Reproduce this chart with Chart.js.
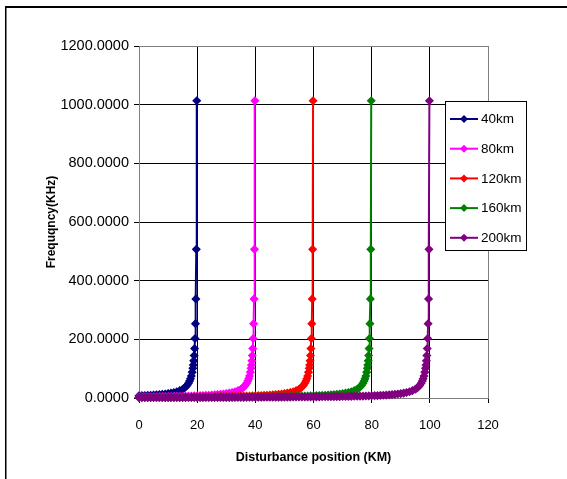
<!DOCTYPE html>
<html>
<head>
<meta charset="utf-8">
<script src="https://cdn.jsdelivr.net/npm/chart.js@4/dist/chart.umd.min.js"></script>
<style>
  html, body { margin: 0; padding: 0; background: #fff; }
  canvas { display: block; }
</style>
</head>
<body>
<canvas id="chart" width="567" height="479"></canvas>
<script>
// line lengths (km) - the resonance peak sits at half the line length
var seriesLabels = ['40km', '80km', '120km', '160km', '200km'];
var lineLengths = [40, 80, 120, 160, 200];
var seriesColors = ['#000080', '#FF00FF', '#FF0000', '#008000', '#800080'];

// distance of the disturbance from the peak (km) and the frequency read there (KHz)
var distToPeak = [
    0.148, 0.296, 0.444, 0.592, 0.74, 0.888, 1.036, 1.184, 1.332, 1.48,
    1.7, 2.0, 2.3, 2.6, 3.0, 3.5, 4.0, 4.5,
    5, 6, 7, 8, 9, 10, 11, 12, 13, 14, 15, 16, 17, 18, 19, 20,
    21, 22, 23, 24, 25, 26, 27, 28, 29, 30, 31, 32, 33, 34, 35, 36, 37, 38, 39, 40,
    41, 42, 43, 44, 45, 46, 47, 48, 49, 50, 51, 52, 53, 54, 55, 56, 57, 58, 59, 60,
    61, 62, 63, 64, 65, 66, 67, 68, 69, 70, 71, 72, 73, 74, 75, 76, 77, 78, 79, 80,
    81, 82, 83, 84, 85, 86, 87, 88, 89, 90, 91, 92, 93, 94, 95, 96, 97, 98, 99, 100
];
var freqKHz = [
    1013.5, 506.8, 337.8, 253.4, 202.7, 168.9, 144.8, 126.7, 112.6, 101.4,
    88.2, 75.0, 65.2, 57.7, 50.0, 42.9, 37.5, 33.3,
    30.0, 25.0, 21.4, 18.8, 16.7, 15.0, 13.6, 12.5, 11.5, 10.7, 10.0, 9.4, 8.8, 8.3, 7.9, 7.5,
    7.1, 6.8, 6.5, 6.3, 6.0, 5.8, 5.6, 5.4, 5.2, 5.0, 4.8, 4.7, 4.5, 4.4, 4.3, 4.2, 4.1, 3.9, 3.8, 3.8,
    3.7, 3.6, 3.5, 3.4, 3.3, 3.3, 3.2, 3.1, 3.1, 3.0, 2.9, 2.9, 2.8, 2.8, 2.7, 2.7, 2.6, 2.6, 2.5, 2.5,
    2.5, 2.4, 2.4, 2.3, 2.3, 2.3, 2.2, 2.2, 2.2, 2.1, 2.1, 2.1, 2.1, 2.0, 2.0, 2.0, 1.9, 1.9, 1.9, 1.9,
    1.9, 1.8, 1.8, 1.8, 1.8, 1.7, 1.7, 1.7, 1.7, 1.7, 1.6, 1.6, 1.6, 1.6, 1.6, 1.6, 1.5, 1.5, 1.5, 1.5
];

var xTicks = [0, 20, 40, 60, 80, 100, 120];
var yTicks = [0, 200, 400, 600, 800, 1000, 1200];

var FONT = "'Liberation Sans', Arial, sans-serif";

function seriesPoints(len) {
    var half = len / 2;
    var pts = [];
    for (var i = distToPeak.length - 1; i >= 0; i--) {
        if (distToPeak[i] <= half) {
            pts.push({ x: half - distToPeak[i], y: freqKHz[i] });
        }
    }
    return pts;
}

var datasets = seriesLabels.map(function (lbl, i) {
    return {
        label: lbl,
        data: seriesPoints(lineLengths[i]),
        borderColor: seriesColors[i],
        backgroundColor: seriesColors[i],
        pointBackgroundColor: seriesColors[i],
        pointBorderColor: seriesColors[i],
        borderWidth: 2,
        pointStyle: 'rectRot',
        pointRadius: 3.5,
        pointBorderWidth: 1.5,
        tension: 0,
        clip: false,
        order: seriesLabels.length - i
    };
});

// outer frame of the picture
var framePlugin = {
    id: 'frame',
    beforeDraw: function (chart) {
        var c = chart.ctx;
        c.save();
        c.fillStyle = '#fff';
        c.fillRect(0, 0, chart.width, chart.height);
        c.fillStyle = '#000';
        c.fillRect(5, 6, chart.width - 5, 2);
        c.fillRect(5, 6, 1.5, chart.height - 6);
        c.restore();
    }
};

// boxed legend inside the plot, like the spreadsheet one
var boxLegend = {
    id: 'boxLegend',
    afterDraw: function (chart) {
        var c = chart.ctx;
        var x0 = 445, y0 = 101, w = 81, h = 149;
        c.save();
        c.fillStyle = '#fff';
        c.fillRect(x0, y0, w, h);
        c.strokeStyle = '#000';
        c.lineWidth = 1;
        c.strokeRect(x0 + 0.5, y0 + 0.5, w, h);
        c.font = '13.5px ' + FONT;
        c.textBaseline = 'middle';
        chart.data.datasets.forEach(function (ds, i) {
            var y = y0 + 18 + i * 29.7;
            c.strokeStyle = ds.borderColor;
            c.lineWidth = 2;
            c.beginPath();
            c.moveTo(450, y);
            c.lineTo(478, y);
            c.stroke();
            c.fillStyle = ds.borderColor;
            c.beginPath();
            c.moveTo(464, y - 4);
            c.lineTo(468, y);
            c.lineTo(464, y + 4);
            c.lineTo(460, y);
            c.closePath();
            c.fill();
            c.fillStyle = '#000';
            c.fillText(ds.label, 481, y + 0.5);
        });
        c.restore();
    }
};

var config = {
    type: 'line',
    data: { datasets: datasets },
    options: {
        responsive: false,
        animation: false,
        devicePixelRatio: 1,
        layout: { padding: { top: 46, right: 79, left: 0, bottom: 0 } },
        plugins: {
            legend: { display: false },
            tooltip: { enabled: false }
        },
        scales: {
            x: {
                type: 'linear',
                min: 0,
                max: 120,
                afterBuildTicks: function (scale) {
                    scale.ticks = xTicks.map(function (v) { return { value: v }; });
                },
                afterFit: function (scale) { scale.height = 81; },
                grid: {
                    color: function (ctx) { return ctx.tick && ctx.tick.value === 120 ? '#808080' : '#000'; },
                    tickColor: '#000',
                    tickLength: 5,
                    lineWidth: 1
                },
                border: { color: '#808080', width: 1 },
                ticks: {
                    color: '#000',
                    padding: 15,
                    maxRotation: 0,
                    font: { family: FONT, size: 13 }
                },
                title: {
                    display: true,
                    text: 'Disturbance position (KM)',
                    color: '#000',
                    padding: { top: 0, bottom: 14 },
                    font: { family: FONT, size: 12.5, weight: 'bold' }
                }
            },
            y: {
                min: 0,
                max: 1200,
                afterBuildTicks: function (scale) {
                    scale.ticks = yTicks.map(function (v) { return { value: v }; });
                },
                afterFit: function (scale) { scale.width = 139; },
                grid: {
                    color: function (ctx) { return ctx.tick && ctx.tick.value === 1200 ? '#808080' : '#000'; },
                    tickColor: '#000',
                    tickLength: 5,
                    lineWidth: 1
                },
                border: { color: '#808080', width: 1 },
                ticks: {
                    color: '#000',
                    padding: 5,
                    font: { family: FONT, size: 14.5 },
                    callback: function (v) { return Number(v).toFixed(4); }
                },
                title: {
                    display: true,
                    text: 'Frequqncy(KHz)',
                    color: '#000',
                    padding: { top: 44, bottom: 0 },
                    font: { family: FONT, size: 12, weight: 'bold' }
                }
            }
        }
    },
    plugins: [framePlugin, boxLegend]
};

var ctx = document.getElementById('chart').getContext('2d');
window.freqChart = new Chart(ctx, config);
</script>
</body>
</html>
